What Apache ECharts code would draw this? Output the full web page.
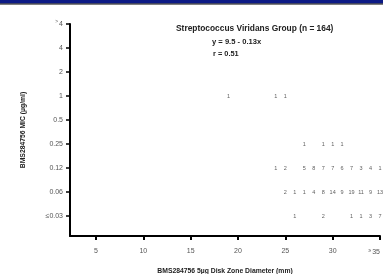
<!DOCTYPE html>
<html>
<head>
<meta charset="utf-8">
<script src="https://cdn.jsdelivr.net/npm/echarts@6/dist/echarts.min.js"></script>
<style>
  html, body { margin: 0; padding: 0; background: #fff; }
  #chart { width: 383px; height: 274px; }
</style>
</head>
<body>
<div id="chart"></div>
<script>
// MIC levels, bottom to top (category index = y value)
const micLabels = ['≤0.03', '0.06', '0.12', '0.25', '0.5', '1', '2', '4', '>4'];
const zoneTicks = [5, 10, 15, 20, 25, 30, 35];

// zone diameter (mm) and isolate count for each MIC row
const zones1 = [19, 24, 25];
const counts1 = [1, 1, 1];
const zones025 = [27, 29, 30, 31];
const counts025 = [1, 1, 1, 1];
const zones012 = [24, 25, 27, 28, 29, 30, 31, 32, 33, 34, 35];
const counts012 = [1, 2, 5, 8, 7, 7, 6, 7, 3, 4, 1];
const zones006 = [25, 26, 27, 28, 29, 30, 31, 32, 33, 34, 35];
const counts006 = [2, 1, 1, 4, 8, 14, 9, 19, 11, 9, 13];
const zones003 = [26, 29, 32, 33, 34, 35];
const counts003 = [1, 2, 1, 1, 3, 7];

const rows = [
  [micLabels.indexOf('1'), zones1, counts1],
  [micLabels.indexOf('0.25'), zones025, counts025],
  [micLabels.indexOf('0.12'), zones012, counts012],
  [micLabels.indexOf('0.06'), zones006, counts006],
  [micLabels.indexOf('≤0.03'), zones003, counts003]
];
const points = [];
rows.forEach(([yi, zs, cs]) => {
  zs.forEach((z, i) => points.push([z, yi, cs[i]]));
});

const chart = echarts.init(document.getElementById('chart'));
const fontFamily = '"Liberation Sans", Arial, sans-serif';

chart.setOption({
  animation: false,
  textStyle: { fontFamily: fontFamily },
  grid: { left: 70, right: 3, top: 24, bottom: 38, outerBoundsMode: 'none', containLabel: false },
  title: [
    {
      text: 'Streptococcus Viridans Group (n = 164)',
      left: 176, top: 25, padding: 0,
      textStyle: { fontSize: 8.4, fontWeight: 'bold', color: '#222', fontFamily: fontFamily }
    },
    {
      text: 'y = 9.5 - 0.13x',
      left: 212, top: 38, padding: 0,
      textStyle: { fontSize: 7.6, fontWeight: 'bold', color: '#222', fontFamily: fontFamily }
    },
    {
      text: 'r = 0.51',
      left: 213, top: 50, padding: 0,
      textStyle: { fontSize: 7.4, fontWeight: 'bold', color: '#222', fontFamily: fontFamily }
    }
  ],
  xAxis: {
    type: 'value',
    min: 2.25,
    max: 35,
    name: 'BMS284756 5µg Disk Zone Diameter (mm)',
    nameLocation: 'middle',
    nameGap: 32,
    nameTextStyle: { fontSize: 6.8, fontWeight: 'bold', color: '#222' },
    splitLine: { show: false },
    axisLine: { show: true, onZero: false, lineStyle: { color: '#000', width: 2 } },
    axisTick: { show: true, customValues: zoneTicks, length: 4, lineStyle: { color: '#000', width: 2 } },
    axisLabel: {
      customValues: zoneTicks,
      fontSize: 7, color: '#555', margin: 12,
      alignMaxLabel: 'right',
      formatter: v => (v === 35 ? '{s|≥}35' : String(v)),
      rich: { s: { fontSize: 5, color: '#555', padding: [0, 1, 4, 0] } }
    }
  },
  yAxis: {
    type: 'value',
    min: -0.83,
    max: 8,
    name: 'BMS284756 MIC (µg/ml)',
    nameLocation: 'middle',
    nameRotate: 90,
    nameGap: 43,
    nameTextStyle: { fontSize: 6.8, fontWeight: 'bold', color: '#222' },
    splitLine: { show: false },
    axisLine: { show: true, onZero: false, lineStyle: { color: '#000', width: 2 } },
    axisTick: { show: true, customValues: [0, 1, 2, 3, 4, 5, 6, 7, 8], length: 4, lineStyle: { color: '#000', width: 1.5 } },
    axisLabel: {
      customValues: [0, 1, 2, 3, 4, 5, 6, 7, 8],
      fontSize: 7, color: '#555', margin: 7,
      formatter: v => {
        const t = micLabels[Math.round(v)];
        if (t === '>4') return '{s|>}4';
        return t;
      },
      rich: { s: { fontSize: 5, color: '#555', padding: [0, 1, 4, 0] } }
    }
  },
  series: [{
    type: 'scatter',
    symbolSize: 0,
    data: points,
    label: {
      show: true,
      position: 'inside',
      formatter: p => String(p.value[2]),
      fontSize: 5.5,
      color: '#333'
    }
  }],
  graphic: [
    { type: 'rect', shape: { x: 0, y: 0, width: 383, height: 3.5 }, style: { fill: '#0c1a85' } },
    { type: 'rect', shape: { x: 0, y: 3.5, width: 383, height: 1 }, style: { fill: '#000' } }
  ]
});
</script>
</body>
</html>
